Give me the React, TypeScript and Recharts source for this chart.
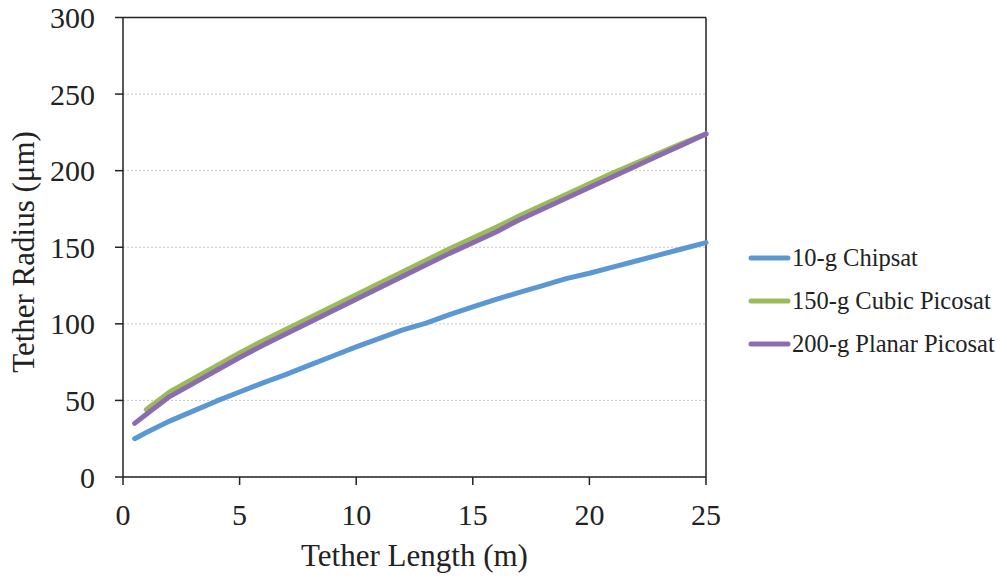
import * as React from 'react';
import { LineChart, Line, XAxis, YAxis, CartesianGrid, ReferenceLine, Legend } from 'recharts';

const lengths = [0.5, 1, 2, 3, 4, 5, 6, 7, 8, 9, 10, 11, 12, 13, 14, 15, 16, 17, 18, 19, 20, 21, 22, 23, 24, 25];
const chipsat = [25, 29, 36.5, 43, 49.5, 55.5, 61.5, 67, 73, 79, 85, 90.5, 96, 100.5, 106, 111, 116, 120.5, 125, 129.5, 133, 137, 141, 145, 149, 153];
const cubicPicosat = [null, 44, 55.5, 64, 72.5, 81, 89, 96.5, 104, 111.5, 119, 126.5, 134, 141.5, 149, 156, 163, 170.5, 177.5, 184.5, 191.5, 198.5, 205, 211.5, 218, 224];
const planarPicosat = [35, 41, 52.5, 61, 69.5, 78, 86, 93.5, 101, 108.5, 116, 123.5, 131, 138.5, 146, 153, 160, 168, 175, 182, 189, 196, 203, 210, 217, 224];
const xTicks = [0, 5, 10, 15, 20, 25];
const yTicks = [0, 50, 100, 150, 200, 250, 300];

const data = lengths.map((len, i) => ({
  len,
  chipsat: chipsat[i],
  cubic: cubicPicosat[i],
  planar: planarPicosat[i],
}));

const FONT = '"Liberation Serif", "Times New Roman", serif';

const series = [
  { key: 'chipsat', name: '10-g Chipsat', color: '#5B97D3' },
  { key: 'cubic', name: '150-g Cubic Picosat', color: '#9BBB59' },
  { key: 'planar', name: '200-g Planar Picosat', color: '#8C6CB0' },
];

function LegendBox() {
  return (
    <div style={{ fontFamily: FONT, fontSize: 24.5, color: '#222' }}>
      {series.map((s) => (
        <div key={s.key} style={{ display: 'flex', alignItems: 'center', height: 43 }}>
          <svg width={43} height={8} style={{ marginRight: 1 }}>
            <line x1={3} y1={4} x2={40} y2={4} stroke={s.color} strokeWidth={5} strokeLinecap="round" />
          </svg>
          <span>{s.name}</span>
        </div>
      ))}
    </div>
  );
}

export default function App() {
  return (
    <div style={{ position: 'absolute', left: 0, top: 0, width: 1007, height: 580, background: '#fff' }}>
      <LineChart width={1007} height={580} data={data} margin={{ top: 17.5, right: 301, bottom: 0, left: 0 }}>
        <CartesianGrid vertical={false} stroke="#c8c8c8" strokeDasharray="2 2" />
        <XAxis
          dataKey="len"
          type="number"
          domain={[0, 25]}
          ticks={xTicks}
          height={103}
          stroke="#222"
          strokeWidth={1.5}
          tickSize={8}
          tickMargin={19}
          tick={{ fill: '#222', fontSize: 30, fontFamily: FONT }}
          label={{
            content: () => (
              <text x={414.5} y={566} textAnchor="middle" fontSize={31} fontFamily={FONT} fill="#222">
                Tether Length (m)
              </text>
            ),
          }}
        />
        <YAxis
          type="number"
          domain={[0, 300]}
          ticks={yTicks}
          width={123}
          stroke="#222"
          strokeWidth={1.5}
          tickSize={8}
          tickMargin={20}
          tick={{ fill: '#222', fontSize: 30, fontFamily: FONT }}
          label={{
            content: () => (
              <text
                x={34}
                y={252}
                textAnchor="middle"
                fontSize={31}
                fontFamily={FONT}
                fill="#222"
                transform="rotate(-90 34 252)"
              >
                Tether Radius (μm)
              </text>
            ),
          }}
        />
        <ReferenceLine y={300} stroke="#222" strokeWidth={1.5} />
        <ReferenceLine x={25} stroke="#222" strokeWidth={1.5} />
        {series.map((s) => (
          <Line
            key={s.key}
            type="linear"
            dataKey={s.key}
            name={s.name}
            stroke={s.color}
            strokeWidth={5}
            strokeLinecap="round"
            strokeLinejoin="round"
            dot={false}
            activeDot={false}
            connectNulls
            isAnimationActive={false}
          />
        ))}
        <Legend
          layout="vertical"
          align="center"
          verticalAlign="middle"
          content={() => <LegendBox />}
          wrapperStyle={{ left: 748, top: 236, width: 259, height: 130 }}
        />
      </LineChart>
    </div>
  );
}
